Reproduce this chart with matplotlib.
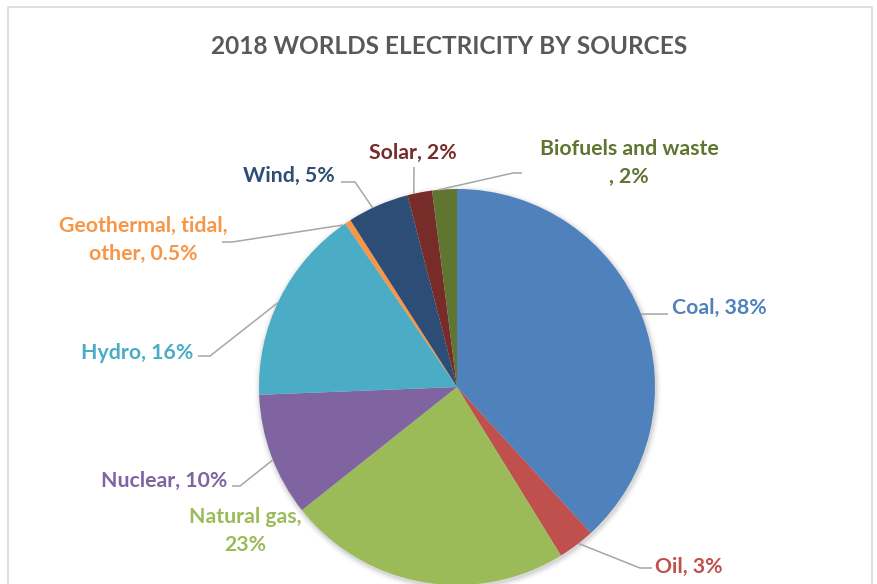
import matplotlib
matplotlib.use("Agg")
import matplotlib.pyplot as plt
import numpy as np

# ---- data ----
sources = ["Coal", "Oil", "Natural gas", "Nuclear", "Hydro",
           "Geothermal, tidal, other", "Wind", "Solar", "Biofuels and waste"]
shares = [38, 3, 23, 10, 16, 0.5, 5, 2, 2]
label_texts = ["Coal, 38%", "Oil, 3%", "Natural gas,\n23%", "Nuclear, 10%", "Hydro, 16%",
               "Geothermal, tidal,\nother, 0.5%", "Wind, 5%", "Solar, 2%", "Biofuels and waste\n, 2%"]
colors = ["#4F81BD", "#C0504D", "#9BBB59", "#8064A2", "#4BACC6",
          "#F79646", "#2C4D75", "#772C2A", "#5F7530"]
label_colors = ["#4F81BD", "#C0504D", "#9BBB59", "#8064A2", "#4BACC6",
                "#F79646", "#2C4D75", "#772C2A", "#5F7530"]
title = "2018 WORLDS ELECTRICITY BY SOURCES"

W, H = 877, 584
plt.rcParams['font.family'] = ['Lato', 'DejaVu Sans']

fig = plt.figure(figsize=(W / 100, H / 100), dpi=100)
ax = fig.add_axes([0, 0, 1, 1])

def P(x, y):
    return (x, H - y)

cx, cy, R = 457, 387, 198

# subtle shadow
for i, a in enumerate(np.linspace(0.05, 0.012, 5)):
    c = plt.Circle(P(cx + 1, cy + 2), R + 1 + i * 1.2, color="black", alpha=a, lw=0, zorder=1)
    ax.add_patch(c)

ax.pie(shares, colors=colors, startangle=90, counterclock=False,
       center=P(cx, cy), radius=R, wedgeprops=dict(linewidth=0, zorder=2))

# label layout (pixel positions): (x, y, ha), leader elbow/end points
layout = [
    (672, 308, "left",   [(668, 314)]),
    (655, 567, "left",   [(640, 568), (652, 568)]),
    (245, 531, "center", None),
    (227, 481, "right",  [(240, 486), (232, 486)]),
    (193, 353, "right",  [(210, 356), (198, 356)]),
    (143, 240, "center", [(232, 242), (222, 242)]),
    (335, 176, "right",  [(355, 182), (341, 182)]),
    (413, 153, "center", [(414, 167)]),
    (629, 163, "center", [(513, 173), (522, 173)]),
]

cum = np.cumsum([0] + shares)
total = 100.0
for i, (txt, col, (lx, ly, ha, leader)) in enumerate(zip(label_texts, label_colors, layout)):
    ax.text(*P(lx, ly), txt, color=col, fontsize=15.3, fontweight="bold",
            ha=ha, va="center", linespacing=1.5, zorder=5)
    if leader:
        mid = 90 - 360 * (cum[i] + shares[i] / 2) / total
        sx = cx + R * np.cos(np.radians(mid))
        sy = cy - R * np.sin(np.radians(mid))
        pts = [(sx, sy)] + leader
        xs = [p[0] for p in pts]
        ys = [H - p[1] for p in pts]
        ax.plot(xs, ys, color="#A6A6A6", lw=1.1, zorder=4, solid_capstyle="butt")

ax.text(*P(449, 47), title, color="#595959", fontsize=17.6, fontweight="bold",
        ha="center", va="center", zorder=5)

# chart border
ax.plot([8, 8, 872, 872], [0, H - 7, H - 7, 0], color="#D9D9D9", lw=1.2, zorder=0)

ax.set_xlim(0, W)
ax.set_ylim(0, H)
ax.set_aspect("auto")
ax.axis("off")
fig.savefig("out.png", dpi=100)
